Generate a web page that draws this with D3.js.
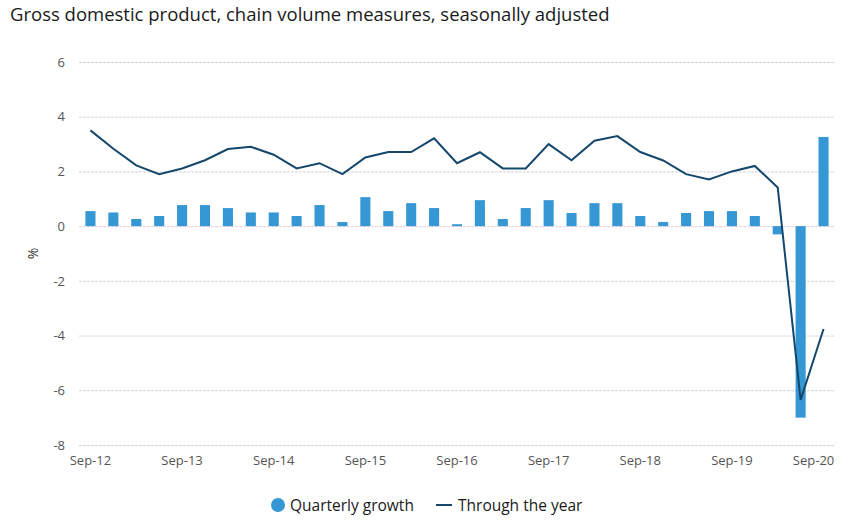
<!DOCTYPE html>
<html>
<head>
<meta charset="utf-8">
<script src="https://cdn.jsdelivr.net/npm/d3@7"></script>
<style>
  body { margin: 0; background: #fff; }
  text { font-family: "Open Sans", "Noto Sans", sans-serif; }
</style>
</head>
<body>
<div id="chart"></div>
<script>
// quarters Sep-12 .. Sep-20
const quarters = ["Sep-12","Dec-12","Mar-13","Jun-13","Sep-13","Dec-13","Mar-14","Jun-14",
  "Sep-14","Dec-14","Mar-15","Jun-15","Sep-15","Dec-15","Mar-16","Jun-16",
  "Sep-16","Dec-16","Mar-17","Jun-17","Sep-17","Dec-17","Mar-18","Jun-18",
  "Sep-18","Dec-18","Mar-19","Jun-19","Sep-19","Dec-19","Mar-20","Jun-20","Sep-20"];
const quarterlyGrowth = [0.55,0.5,0.26,0.37,0.77,0.77,0.66,0.5,0.5,0.37,0.77,0.15,1.06,0.55,0.84,0.66,
  0.07,0.95,0.26,0.66,0.95,0.48,0.84,0.84,0.37,0.15,0.48,0.55,0.55,0.37,-0.3,-7.0,3.26];
const throughYear = [3.5,2.83,2.22,1.9,2.11,2.41,2.82,2.9,2.61,2.11,2.3,1.9,2.51,2.71,2.71,3.21,
  2.3,2.7,2.11,2.11,3.0,2.41,3.12,3.29,2.71,2.4,1.9,1.71,2.0,2.2,1.41,-6.35,-3.76];
const yTicks = [-8,-6,-4,-2,0,2,4,6];
const xTickLabels = ["Sep-12","Sep-13","Sep-14","Sep-15","Sep-16","Sep-17","Sep-18","Sep-19","Sep-20"];

const width = 848, height = 525;
const margin = {top: 62, right: 13, bottom: 80, left: 79};

const svg = d3.select("#chart").append("svg")
  .attr("width", width)
  .attr("height", height);

svg.append("text")
  .attr("x", 10)
  .attr("y", 21)
  .attr("font-size", 18.5)
  .attr("fill", "#1a1a1a")
  .text("Gross domestic product, chain volume measures, seasonally adjusted");

const x = d3.scaleBand()
  .domain(quarters)
  .range([margin.left, width - margin.right])
  .paddingInner(0.56)
  .paddingOuter(0.28);

const y = d3.scaleLinear()
  .domain([-8, 6])
  .range([445, 62]);

// gridlines
svg.append("g")
  .selectAll("line")
  .data(yTicks)
  .join("line")
    .attr("x1", margin.left)
    .attr("x2", width - margin.right)
    .attr("y1", d => y(d) + 0.5)
    .attr("y2", d => y(d) + 0.5)
    .attr("stroke", d => d === 0 ? "#e2cede" : "#d3d3dc")
    .attr("stroke-width", 1)
    .attr("stroke-dasharray", "3,1");

// y axis labels (plain hyphen for negatives, as in the source)
const yAxis = svg.append("g")
  .attr("transform", "translate(" + (margin.left - 14) + ",0)")
  .call(d3.axisLeft(y).tickValues(yTicks).tickSize(0).tickPadding(0).tickFormat(d => String(d)));
yAxis.select(".domain").remove();
yAxis.selectAll("text")
  .attr("font-size", 13)
  .attr("fill", "#555")
  .style("font-family", "'Open Sans', sans-serif");

svg.append("text")
  .attr("transform", "translate(38," + y(-1) + ") rotate(-90)")
  .attr("text-anchor", "middle")
  .attr("font-size", 14)
  .attr("fill", "#333")
  .text("%");

// x axis labels
const xAxis = svg.append("g")
  .attr("transform", "translate(0," + (y(-8) + 11) + ")")
  .call(d3.axisBottom(x).tickValues(xTickLabels).tickSize(0).tickPadding(0));
xAxis.select(".domain").remove();
xAxis.selectAll("text")
  .attr("font-size", 13)
  .attr("fill", "#555")
  .style("font-family", "'Open Sans', sans-serif");
// last label is nudged inside the frame
xAxis.selectAll(".tick").filter(d => d === "Sep-20").select("text").attr("dx", -10);

// bars
svg.append("g")
  .selectAll("rect")
  .data(quarters)
  .join("rect")
    .attr("x", d => x(d))
    .attr("width", x.bandwidth())
    .attr("y", (d, i) => y(Math.max(0, quarterlyGrowth[i])))
    .attr("height", (d, i) => Math.abs(y(quarterlyGrowth[i]) - y(0)))
    .attr("fill", "#3597d3");

// line
const line = d3.line()
  .x((d, i) => x(quarters[i]) + x.bandwidth() / 2)
  .y(d => y(d));

svg.append("path")
  .datum(throughYear)
  .attr("fill", "none")
  .attr("stroke", "#14476b")
  .attr("stroke-width", 2)
  .attr("d", line);

// legend
const legend = svg.append("g");
legend.append("circle")
  .attr("cx", 278)
  .attr("cy", 505)
  .attr("r", 7)
  .attr("fill", "#3597d3");
legend.append("text")
  .attr("x", 290)
  .attr("y", 510.5)
  .attr("font-size", 15.5)
  .attr("fill", "#1a1a1a")
  .text("Quarterly growth");
legend.append("line")
  .attr("x1", 436)
  .attr("x2", 452)
  .attr("y1", 505)
  .attr("y2", 505)
  .attr("stroke", "#14476b")
  .attr("stroke-width", 2);
legend.append("text")
  .attr("x", 458)
  .attr("y", 510.5)
  .attr("font-size", 15.5)
  .attr("fill", "#1a1a1a")
  .text("Through the year");
</script>
</body>
</html>
